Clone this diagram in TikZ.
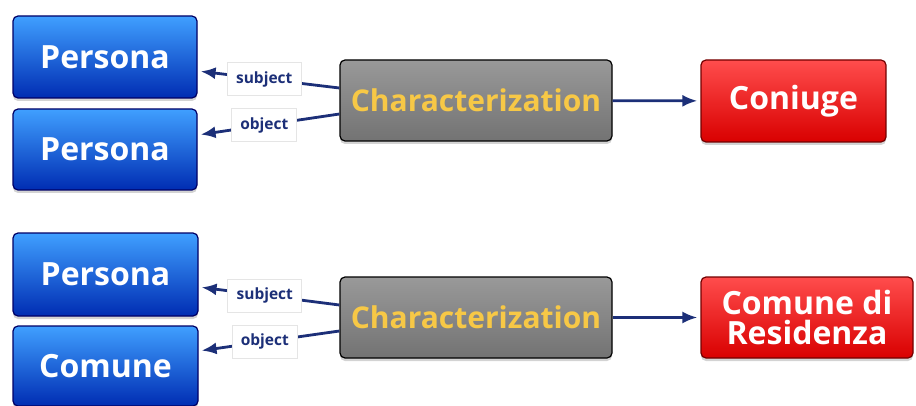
\documentclass[tikz,border=0pt]{standalone}
\usepackage{fontspec}
\setmainfont{Open Sans}
\usetikzlibrary{shadows,arrows.meta}
\definecolor{navy}{HTML}{1C2F78}
\definecolor{gold}{HTML}{F7C846}
\begin{document}
\begin{tikzpicture}[x=1pt,y=1pt,
    box/.style={rounded corners=5pt,line width=1.2pt,font=\bfseries\fontsize{32}{30}\selectfont,text=white,
      inner sep=0pt,align=center,drop shadow={opacity=0.35,shadow xshift=0pt,shadow yshift=-3pt}},
    entity/.style={box,draw=blue!40!black,top color=blue!50!cyan!75!white,bottom color=blue!75!cyan!70!black},
    relation/.style={box,draw=black,top color=black!40,bottom color=black!55,text=gold,
      font=\bfseries\fontsize{30}{30}\selectfont},
    value/.style={box,draw=red!45!black,top color=red!70!white,bottom color=red!85!black},
    role/.style={fill=white,draw=black!10,line width=0.6pt,font=\bfseries\fontsize{15.5}{17}\selectfont,
      text=navy,inner sep=2pt,minimum height=33pt},
    link/.style={navy,line width=2.8pt},
    >={Latex[length=15pt,width=12pt]}]
    \useasboundingbox (0,0) rectangle (916,405);

    % Top group
    \node[entity,minimum width=184pt,minimum height=82pt] (persA) at (105,348) {Persona};
    \node[entity,minimum width=184pt,minimum height=81pt] (persB) at (105,255.5) {Persona};
    \node[relation,minimum width=272pt,minimum height=81pt] (charA) at (476,304.5) {Characterization};
    \node[value,minimum width=185pt,minimum height=82pt] (coniuge) at (793.5,304) {Coniuge};

    \draw[link,->,shorten >=3pt] ([yshift=12.5pt]charA.west) -- ([yshift=-14pt]persA.east)
        node[role,pos=0.53,minimum width=74pt] (subjA) {subject};
    \draw[link,->,shorten >=3pt] ([yshift=-13.5pt]charA.west) -- ([yshift=14.5pt]persB.east)
        node[role,pos=0.53,minimum width=65pt] (objA) {object};
    \draw[link,->,shorten >=3pt] (charA) -- (coniuge);

    % Bottom group
    \node[entity,minimum width=185pt,minimum height=83pt] (persC) at (105.5,130.5) {Persona};
    \node[entity,minimum width=185pt,minimum height=80pt] (comune) at (105.5,39) {Comune};
    \node[relation,minimum width=272pt,minimum height=81pt] (charB) at (476,87.5) {Characterization};
    \node[value,minimum width=212pt,minimum height=81pt] (residenza) at (807,87.5) {Comune di\\Residenza};

    \draw[link,->,shorten >=3pt] ([yshift=12.5pt]charB.west) -- ([yshift=-12.5pt]persC.east)
        node[role,pos=0.53,minimum width=74pt] (subjB) {subject};
    \draw[link,->,shorten >=3pt] ([yshift=-13.5pt]charB.west) -- ([yshift=15pt]comune.east)
        node[role,pos=0.53,minimum width=65pt] (objB) {object};
    \draw[link,->,shorten >=3pt] (charB) -- (residenza);
\end{tikzpicture}
\end{document}
